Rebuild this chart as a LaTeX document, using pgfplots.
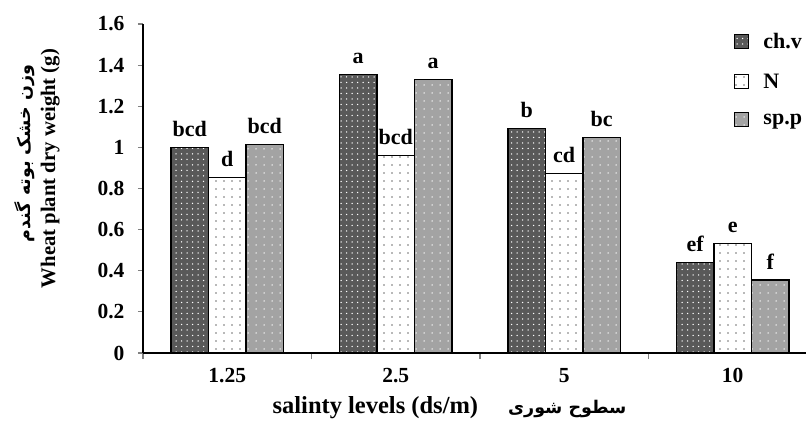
\documentclass[border=0pt]{standalone}
\usepackage{fontspec}
\setmainfont{Liberation Serif}
\newfontfamily\arabicfont[Script=Arabic]{DejaVu Sans}
\TeXXeTstate=1
\usepackage{pgfplots}
\pgfplotsset{compat=1.18}
\usetikzlibrary{patterns.meta}
\definecolor{chv}{HTML}{595959}
\definecolor{spp}{HTML}{A3A3A3}
\newcommand{\tickf}{\bfseries\fontsize{21.5bp}{24bp}\selectfont}
\newcommand{\barf}{\bfseries\fontsize{22bp}{25bp}\selectfont}
\begin{document}
\begin{tikzpicture}
\useasboundingbox (-143bp,-76bp) rectangle (663bp,353bp);
\begin{axis}[
  at={(0,0)}, anchor=south west,
  scale only axis, width=663bp, height=329bp,
  ybar=0pt, bar width=37.5bp,
  xmin=-0.5, xmax=3.435, ymin=0, ymax=1.6,
  axis x line*=bottom, axis y line*=left,
  axis line style={line width=1.4bp},
  xtick={0,1,2,3}, xticklabels={1.25,2.5,5,10},
  major x tick style={draw=none},
  minor xtick={-0.5,0.5,1.5,2.5},
  minor x tick style={line width=1.2bp},
  minor tick length=6bp,
  ytick={0,0.2,...,1.6},
  major tick length=5bp,
  y tick style={line width=1.2bp},
  tick align=outside,
  /pgf/number format/.cd, fixed, precision=1, assume math mode=true, /pgfplots/.cd,
  ticklabel style={font=\tickf},
  yticklabel style={xshift=-10bp},
  xticklabel style={yshift=-7bp},
  xlabel={salinty levels (ds/m)\hspace{30bp}{\arabicfont\fontsize{17.5bp}{20bp}\selectfont\beginR سطوح شوری\endR}},
  xlabel style={font=\bfseries\fontsize{24.5bp}{28bp}\selectfont, xshift=-25bp, yshift=-7bp},
  ylabel={\hspace*{30bp}{\arabicfont\fontsize{17.5bp}{21bp}\selectfont\beginR وزن خشک بوته گندم\endR}\\[2bp]Wheat plant dry weight (g)},
  ylabel style={font=\bfseries\fontsize{20.7bp}{23bp}\selectfont, align=center, yshift=31bp, xshift=20bp},
  point meta=explicit symbolic,
  nodes near coords,
  nodes near coords style={font=\barf, anchor=south, yshift=7bp},
  legend style={draw=none, fill=none, at={(0.887,0.985)}, anchor=north west,
    font=\barf, row sep=20bp, legend cell align=left},
  legend image code/.code={\draw[#1,line width=1.2bp] (0bp,-7bp) rectangle (14bp,7bp); \path (26bp,0);},
]
\addplot[draw=black, line width=1.2bp, fill=chv,
  postaction={pattern={Dots[distance=5.5bp, radius=0.75bp]}, pattern color=white}]
  coordinates {(0,0.998) [bcd] (1,1.355) [a] (2,1.092) [b] (3,0.441) [ef]};
\addlegendentry{ch.v}
\addplot[draw=black, line width=1.2bp, fill=white,
  postaction={pattern={Dots[distance=8bp, radius=0.8bp]}, pattern color=black!55}]
  coordinates {(0,0.852) [d] (1,0.959) [bcd] (2,0.872) [cd] (3,0.533) [e]};
\addlegendentry{N}
\addplot[draw=black, line width=1.2bp, fill=spp,
  postaction={pattern={Dots[distance=8bp, radius=0.75bp]}, pattern color=white}]
  coordinates {(0,1.015) [bcd] (1,1.330) [a] (2,1.049) [bc] (3,0.355) [f]};
\addlegendentry{sp.p}
\end{axis}
\end{tikzpicture}
\end{document}
